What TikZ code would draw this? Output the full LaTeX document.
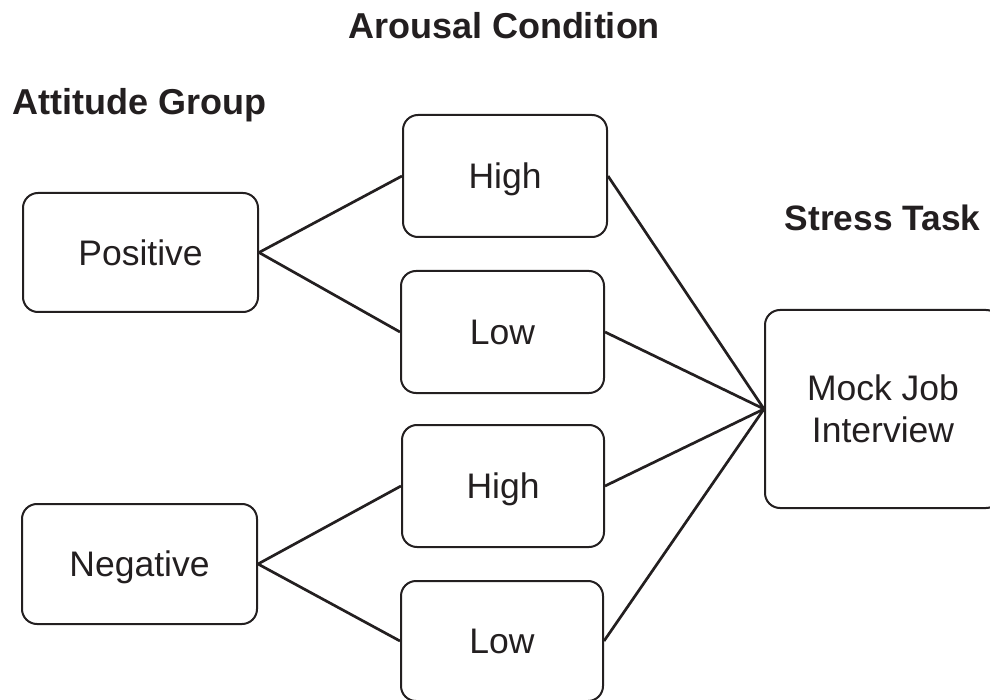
\documentclass[tikz,border=0pt]{standalone}
\usepackage{fontspec}
\setmainfont{Liberation Sans}
\definecolor{ink}{HTML}{231F20}
\begin{document}
\begin{tikzpicture}[x=1pt,y=-1pt,
  box/.style={draw=ink, line width=2pt, rounded corners=15pt, inner sep=0pt,
    font=\fontsize{35.5}{42}\selectfont, text=ink, text height=25.5pt, text depth=0pt},
  title/.style={font=\fontsize{36}{42}\selectfont\bfseries, text=ink, anchor=base, inner sep=0pt},
  link/.style={draw=ink, line width=2.7pt}]
\useasboundingbox (0,0) rectangle (990,700);
\clip (0,0) rectangle (990,700);
\node[title] (ac) at (504,39) {Arousal Condition};
\node[title] (ag) at (139.5,115) {Attitude Group};
\node[title, font=\fontsize{35.3}{42}\selectfont\bfseries] (st) at (882.5,231) {Stress Task};
\node[box, minimum width=235pt, minimum height=119pt] (pos) at (140.5,252.5) {Positive};
\node[box, minimum width=235pt, minimum height=120pt] (neg) at (139.5,564) {Negative};
\node[box, minimum width=204pt, minimum height=122pt] (h1) at (505,176) {High};
\node[box, minimum width=203pt, minimum height=122pt] (l1) at (502.5,332) {Low};
\node[box, minimum width=202pt, minimum height=122pt] (h2) at (503,486) {High};
\node[box, minimum width=202pt, minimum height=120pt] (l2) at (502,641) {Low};
\node[box, minimum width=236pt, minimum height=198pt, align=center, text height=, text depth=] (mock) at (883,409) {Mock Job\\Interview};
\draw[link] (pos.east) -- (h1.west);
\draw[link] (pos.east) -- (l1.west);
\draw[link] (neg.east) -- (h2.west);
\draw[link] (neg.east) -- (l2.west);
\draw[link] (h1.east) -- (mock.west);
\draw[link] (l1.east) -- (mock.west);
\draw[link] (h2.east) -- (mock.west);
\draw[link] (l2.east) -- (mock.west);
\end{tikzpicture}
\end{document}
